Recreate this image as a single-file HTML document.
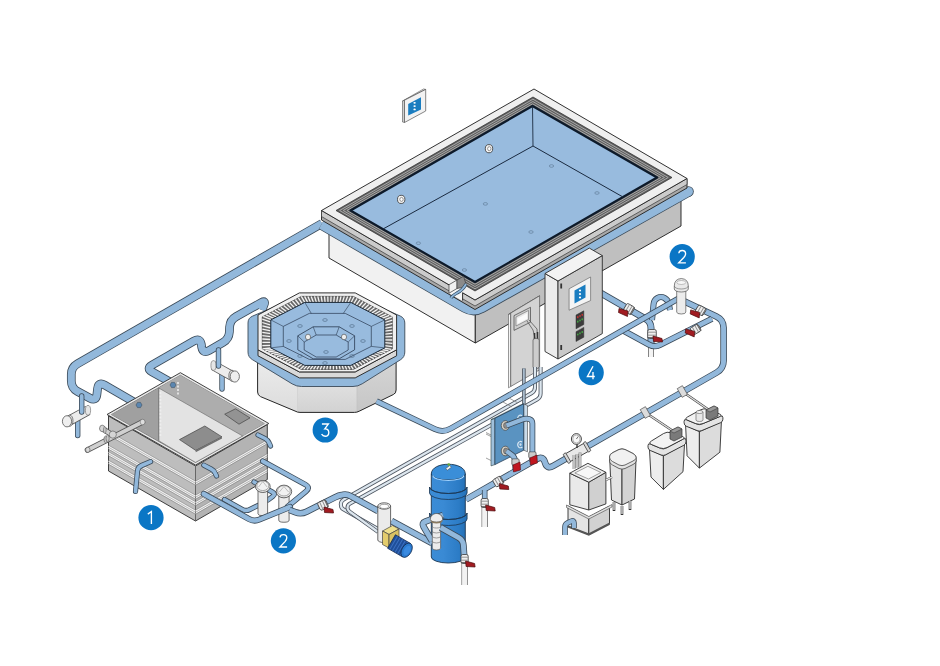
<!DOCTYPE html>
<html><head><meta charset="utf-8"><style>
html,body{margin:0;padding:0;background:#fff;}
svg{display:block;}
</style></head><body>
<svg width="940" height="666" viewBox="0 0 940 666">
<rect width="940" height="666" fill="#fff"/>
<polygon points="402.5,101.0 423.5,89.0 425.7,89.4 404.5,100.2" fill="#e6e6e6" stroke="#555" stroke-width="0.6" stroke-linejoin="round" />
<polygon points="402.5,101.0 404.5,100.2 404.5,122.5 402.5,122.0" fill="#cfcfcf" stroke="#555" stroke-width="0.6" stroke-linejoin="round" />
<polygon points="404.5,100.2 425.7,89.4 425.7,111.0 404.5,122.5" fill="#f2f2f2" stroke="#555" stroke-width="0.7" stroke-linejoin="round" />
<polygon points="408.2,104.0 421.0,97.2 421.0,109.4 408.2,115.4" fill="#1a7dc0" stroke="none" stroke-width="0" stroke-linejoin="round" />
<ellipse cx="414.6" cy="102.8" rx="1.2" ry="0.9" fill="#fff" stroke="none" stroke-width="0"/>
<ellipse cx="414.6" cy="106.1" rx="1.2" ry="0.9" fill="#fff" stroke="none" stroke-width="0"/>
<ellipse cx="414.6" cy="109.39999999999999" rx="1.2" ry="0.9" fill="#fff" stroke="none" stroke-width="0"/>
<path d="M322.0,223.4 L77.4,363.8 Q71.3,367.3 71.3,374.3 L71.3,381.0 Q71.3,388.0 77.4,391.4 L89.9,398.1 Q96.0,401.5 96.9,394.6 L97.6,388.4 Q98.5,381.5 104.6,385.0 L140.0,405.5" fill="none" stroke="#3b4a58" stroke-width="8.7" stroke-linecap="butt" stroke-linejoin="round"/>
<path d="M322.0,223.4 L77.4,363.8 Q71.3,367.3 71.3,374.3 L71.3,381.0 Q71.3,388.0 77.4,391.4 L89.9,398.1 Q96.0,401.5 96.9,394.6 L97.6,388.4 Q98.5,381.5 104.6,385.0 L140.0,405.5" fill="none" stroke="#92b8db" stroke-width="7.1" stroke-linecap="butt" stroke-linejoin="round"/>
<polygon points="329.0,226.0 475.3,310.0 475.3,343.0 329.0,258.0" fill="#f1f1f1" stroke="#262626" stroke-width="0.95" stroke-linejoin="round" />
<polygon points="475.3,310.0 681.0,192.0 681.0,226.0 475.3,343.0" fill="#bfbfbf" stroke="#262626" stroke-width="0.95" stroke-linejoin="round" />
<path d="M321.4,224.5 L464.8,307.5 Q473.5,312.5 482.2,307.6 L688.5,191.5" fill="none" stroke="#3b4a58" stroke-width="10.6" stroke-linecap="butt" stroke-linejoin="round"/>
<circle cx="688.5" cy="191.5" r="5.3" fill="#3b4a58"/>
<path d="M321.4,224.5 L464.8,307.5 Q473.5,312.5 482.2,307.6 L688.5,191.5" fill="none" stroke="#92b8db" stroke-width="9" stroke-linecap="butt" stroke-linejoin="round"/>
<circle cx="688.5" cy="191.5" r="4.5" fill="#92b8db"/>
<polygon points="321.5,210.5 475.0,300.0 687.0,178.5 687.0,188.0 475.0,309.5 321.5,220.0" fill="#a8a8a8" stroke="#262626" stroke-width="0.95" stroke-linejoin="round" />
<polygon points="321.5,210.5 475.0,300.0 687.0,178.5 687.0,184.5 475.0,306.0 321.5,216.5" fill="#cbcbcb" stroke="#333" stroke-width="0.7" stroke-linejoin="round" />
<polygon points="321.5,210.5 534.0,89.0 687.0,178.5 475.0,300.0" fill="#efefef" stroke="#262626" stroke-width="0.95" stroke-linejoin="round" />
<polygon points="336.0,210.5 533.0,97.0 672.0,177.5 475.0,291.0" fill="#5e5e5e" stroke="#2a2a2a" stroke-width="0.7" stroke-linejoin="round" />
<polygon points="339.6,210.5 532.9,99.2 668.2,177.5 475.0,288.8" fill="none" stroke="#a8a8a8" stroke-width="1.0"/>
<polygon points="343.2,210.5 532.8,101.5 664.5,177.5 475.0,286.5" fill="none" stroke="#a8a8a8" stroke-width="1.0"/>
<polygon points="346.9,210.5 532.6,103.8 660.8,177.5 475.0,284.2" fill="none" stroke="#a8a8a8" stroke-width="1.0"/>
<polygon points="350.5,210.5 532.5,106.0 657.0,177.5 475.0,282.0" fill="#98bbde" stroke="#0d1a2a" stroke-width="2.1" stroke-linejoin="round" />
<line x1="532.5" y1="106" x2="533" y2="146" stroke="#1a2a40" stroke-width="0.9"/>
<line x1="533" y1="146" x2="623" y2="197" stroke="#1a2a40" stroke-width="1.0"/>
<line x1="533" y1="146" x2="383" y2="229" stroke="#1a2a40" stroke-width="1.0"/>
<ellipse cx="485.4" cy="203.9" rx="2.2" ry="1.3" fill="none" stroke="#5a7590" stroke-width="0.6"/>
<ellipse cx="531" cy="232" rx="2.2" ry="1.3" fill="none" stroke="#5a7590" stroke-width="0.6"/>
<ellipse cx="597" cy="193" rx="2.2" ry="1.3" fill="none" stroke="#5a7590" stroke-width="0.6"/>
<ellipse cx="551.5" cy="166" rx="2.2" ry="1.3" fill="none" stroke="#5a7590" stroke-width="0.6"/>
<ellipse cx="418.4" cy="243.2" rx="2.2" ry="1.3" fill="none" stroke="#5a7590" stroke-width="0.6"/>
<ellipse cx="464.4" cy="270" rx="2.2" ry="1.3" fill="none" stroke="#5a7590" stroke-width="0.6"/>
<ellipse cx="401.2" cy="199.4" rx="3.7" ry="4.1" fill="#f4f4f4" stroke="#333" stroke-width="0.8"/>
<ellipse cx="401.5" cy="199.4" rx="1.7" ry="2.0" fill="#fff" stroke="#555" stroke-width="0.6"/>
<ellipse cx="489" cy="148.7" rx="3.7" ry="4.1" fill="#f4f4f4" stroke="#333" stroke-width="0.8"/>
<ellipse cx="489.3" cy="148.7" rx="1.7" ry="2.0" fill="#fff" stroke="#555" stroke-width="0.6"/>
<polygon points="449.0,284.7 457.0,280.0 466.0,284.0 462.6,292.6 462.6,301.0 449.0,293.2" fill="#f6f6f6" stroke="none" stroke-width="0" stroke-linejoin="round" />
<polygon points="449.0,284.7 457.0,280.0 457.0,288.5 449.0,293.2" fill="#f1f1f1" stroke="#333" stroke-width="0.7" stroke-linejoin="round" />
<polygon points="457.0,280.0 463.5,276.3 466.0,284.0 462.6,287.5 457.0,288.5" fill="#8a8a8a" stroke="#333" stroke-width="0.6" stroke-linejoin="round" />
<line x1="462.6" y1="292.6" x2="462.6" y2="300.6" stroke="#262626" stroke-width="0.95"/>
<path d="M466,284 Q463,290 457,293 Q452,296 451,298" fill="none" stroke="#2e4a62" stroke-width="3.2"/>
<path d="M466,284 Q463,290 457,293 Q452,296 451,298" fill="none" stroke="#92b8db" stroke-width="1.8"/>
<path d="M77.7,418.0 L77.7,435.5" fill="none" stroke="#3b4a58" stroke-width="5.4" stroke-linecap="round" stroke-linejoin="round"/>
<path d="M77.7,418.0 L77.7,435.5" fill="none" stroke="#92b8db" stroke-width="3.8" stroke-linecap="round" stroke-linejoin="round"/>
<path d="M88,410.3 L69.5,420.5" stroke="#555" stroke-width="10" stroke-linecap="butt"/>
<path d="M88,410.3 L69.5,420.5" stroke="#ececec" stroke-width="8.4" stroke-linecap="butt"/>
<ellipse cx="88" cy="410.3" rx="2.6" ry="4.9" fill="#e6e6e6" stroke="#666" stroke-width="0.6"/>
<ellipse cx="69.8" cy="420.7" rx="3.2" ry="5.6" fill="#dcdcdc" stroke="#555" stroke-width="0.7"/>
<ellipse cx="67" cy="421.3" rx="4.6" ry="5.6" fill="#efefef" stroke="#555" stroke-width="0.8"/>
<path d="M81.7,396.0 L81.7,412.0" fill="none" stroke="#3b4a58" stroke-width="5.4" stroke-linecap="round" stroke-linejoin="round"/>
<path d="M81.7,396.0 L81.7,412.0" fill="none" stroke="#92b8db" stroke-width="3.8" stroke-linecap="round" stroke-linejoin="round"/>
<path d="M172.0,383.0 L152.1,371.9 Q146.0,368.5 152.1,365.0 L193.9,341.0 Q200.0,337.5 201.3,344.4 L201.7,347.1 Q203.0,354.0 209.1,350.5 L222.9,342.5 Q229.0,339.0 229.4,332.0 L229.6,327.0 Q230.0,320.0 236.1,316.6 L261.3,302.6 Q266.0,300.0 264.0,305.0 L262.0,310.0" fill="none" stroke="#3b4a58" stroke-width="8.7" stroke-linecap="butt" stroke-linejoin="round"/>
<path d="M172.0,383.0 L152.1,371.9 Q146.0,368.5 152.1,365.0 L193.9,341.0 Q200.0,337.5 201.3,344.4 L201.7,347.1 Q203.0,354.0 209.1,350.5 L222.9,342.5 Q229.0,339.0 229.4,332.0 L229.6,327.0 Q230.0,320.0 236.1,316.6 L261.3,302.6 Q266.0,300.0 264.0,305.0 L262.0,310.0" fill="none" stroke="#92b8db" stroke-width="7.1" stroke-linecap="butt" stroke-linejoin="round"/>
<path d="M222.0,373.0 L222.0,389.0" fill="none" stroke="#3b4a58" stroke-width="5.4" stroke-linecap="round" stroke-linejoin="round"/>
<path d="M222.0,373.0 L222.0,389.0" fill="none" stroke="#92b8db" stroke-width="3.8" stroke-linecap="round" stroke-linejoin="round"/>
<path d="M213.5,365.5 L232,375.8" stroke="#555" stroke-width="10" stroke-linecap="butt"/>
<path d="M213.5,365.5 L232,375.8" stroke="#ececec" stroke-width="8.4" stroke-linecap="butt"/>
<ellipse cx="213.5" cy="365.5" rx="2.6" ry="4.9" fill="#e6e6e6" stroke="#666" stroke-width="0.6"/>
<ellipse cx="232" cy="375.8" rx="3.2" ry="5.6" fill="#dcdcdc" stroke="#555" stroke-width="0.7"/>
<ellipse cx="234.8" cy="376.5" rx="4.6" ry="5.6" fill="#efefef" stroke="#555" stroke-width="0.8"/>
<path d="M218.5,350.0 L218.5,366.0" fill="none" stroke="#3b4a58" stroke-width="5.4" stroke-linecap="round" stroke-linejoin="round"/>
<path d="M218.5,350.0 L218.5,366.0" fill="none" stroke="#92b8db" stroke-width="3.8" stroke-linecap="round" stroke-linejoin="round"/>
<defs><linearGradient id="htl" x1="0" y1="0" x2="0" y2="1"><stop offset="0" stop-color="#eeeeee"/><stop offset="1" stop-color="#dcdcdc"/></linearGradient><linearGradient id="htf" x1="0" y1="0" x2="0" y2="1"><stop offset="0" stop-color="#e6e6e6"/><stop offset="1" stop-color="#d2d2d2"/></linearGradient><linearGradient id="htr" x1="0" y1="0" x2="0" y2="1"><stop offset="0" stop-color="#d8d8d8"/><stop offset="1" stop-color="#c6c6c6"/></linearGradient></defs>
<polygon points="257.6,350.0 297.5,372.0 297.5,412.4 257.6,395.0" fill="url(#htl)" stroke="none" stroke-width="0" stroke-linejoin="round" />
<polygon points="297.5,372.0 356.9,372.0 356.9,412.4 297.5,412.4" fill="url(#htf)" stroke="none" stroke-width="0" stroke-linejoin="round" />
<polygon points="356.9,372.0 396.1,350.0 396.1,393.2 356.9,412.4" fill="url(#htr)" stroke="none" stroke-width="0" stroke-linejoin="round" />
<path d="M257.6,350 L257.6,392 Q257.6,395 260.5,396.6 L295,411 Q297.5,412.4 300,412.4 L354.4,412.4 Q356.9,412.4 359.2,411.2 L393.4,394.5 Q396.1,393.2 396.1,390 L396.1,350" fill="none" stroke="#262626" stroke-width="1"/>
<line x1="297.5" y1="380" x2="297.5" y2="411" stroke="#c8c8c8" stroke-width="0.6"/>
<line x1="356.9" y1="380" x2="356.9" y2="411" stroke="#bdbdbd" stroke-width="0.6"/>
<path d="M300.0,296.0 L349.0,296.0 Q354.0,296.0 358.6,298.0 L400.2,316.0 Q404.8,318.0 404.8,323.0 L404.8,352.0 Q404.8,357.0 400.6,359.7 L362.2,383.8 Q358.0,386.5 353.0,386.5 L301.5,386.5 Q296.5,386.5 292.2,383.9 L252.3,359.6 Q248.0,357.0 248.0,352.0 L248.0,323.0 Q248.0,318.0 252.6,316.1 L295.4,297.9 Q300.0,296.0 305.0,296.0 L354.0,296.0 Z" fill="#92b8db" stroke="#3b4a58" stroke-width="0.9" stroke-linejoin="round"/>
<polygon points="258.0,349.8 299.4,371.9 355.2,371.9 396.6,349.8 396.6,355.8 355.2,377.9 299.4,377.9 258.0,355.8" fill="#d9d9d9" stroke="#262626" stroke-width="0.95" stroke-linejoin="round" />
<polygon points="299.4,292.9 355.2,292.9 396.6,315.0 396.6,349.8 355.2,371.9 299.4,371.9 258.0,349.8 258.0,315.0" fill="#f0f0f0" stroke="#262626" stroke-width="0.95" stroke-linejoin="round" />
<polygon points="301.3,296.4 353.3,296.4 392.3,316.9 392.3,348.9 353.3,369.4 301.3,369.4 262.3,348.9 262.3,316.9" fill="#6a6a6a" stroke="#333" stroke-width="0.7" stroke-linejoin="round" />
<path d="M301.3,296.4L304.8,302.4 M304.6,296.4L307.7,302.4 M307.9,296.4L310.6,302.4 M311.2,296.4L313.5,302.4 M314.5,296.4L316.4,302.4 M317.8,296.4L319.3,302.4 M321.2,296.4L322.2,302.4 M324.5,296.4L325.1,302.4 M327.8,296.4L328.0,302.4 M331.1,296.4L330.8,302.4 M334.4,296.4L333.7,302.4 M337.7,296.4L336.6,302.4 M341.0,296.4L339.5,302.4 M344.3,296.4L342.4,302.4 M347.6,296.4L345.3,302.4 M350.9,296.4L348.2,302.4 M354.1,296.8L351.1,302.5 M357.1,298.4L353.6,303.9 M360.0,299.9L356.2,305.2 M362.9,301.5L358.8,306.5 M365.9,303.0L361.4,307.8 M368.8,304.5L363.9,309.2 M371.7,306.1L366.5,310.5 M374.7,307.6L369.1,311.8 M377.6,309.2L371.7,313.1 M380.5,310.7L374.2,314.5 M383.4,312.2L376.8,315.8 M386.4,313.8L379.4,317.1 M389.3,315.3L381.9,318.4 M392.2,316.9L384.5,319.8 M392.3,320.1L384.8,322.5 M392.3,323.4L384.8,325.4 M392.3,326.8L384.8,328.3 M392.3,330.1L384.8,331.2 M392.3,333.4L384.8,334.1 M392.3,336.7L384.8,336.9 M392.3,340.0L384.8,339.8 M392.3,343.3L384.8,342.7 M392.3,346.6L384.8,345.6 M391.4,349.4L384.2,348.2 M388.5,350.9L381.7,349.5 M385.5,352.5L379.1,350.8 M382.6,354.0L376.5,352.2 M379.7,355.5L374.0,353.5 M376.7,357.1L371.4,354.8 M373.8,358.6L368.8,356.1 M370.9,360.2L366.2,357.5 M367.9,361.7L363.7,358.8 M365.0,363.2L361.1,360.1 M362.1,364.8L358.5,361.4 M359.2,366.3L355.9,362.8 M356.2,367.9L353.4,364.1 M353.3,369.4L350.8,365.4 M350.0,369.4L347.9,365.4 M346.7,369.4L345.0,365.4 M343.4,369.4L342.1,365.4 M340.1,369.4L339.2,365.4 M336.8,369.4L336.3,365.4 M333.4,369.4L333.4,365.4 M330.1,369.4L330.5,365.4 M326.8,369.4L327.6,365.4 M323.5,369.4L324.8,365.4 M320.2,369.4L321.9,365.4 M316.9,369.4L319.0,365.4 M313.6,369.4L316.1,365.4 M310.3,369.4L313.2,365.4 M307.0,369.4L310.3,365.4 M303.7,369.4L307.4,365.4 M300.5,369.0L304.5,365.3 M297.5,367.4L302.0,363.9 M294.6,365.9L299.4,362.6 M291.7,364.3L296.8,361.3 M288.7,362.8L294.2,360.0 M285.8,361.3L291.7,358.6 M282.9,359.7L289.1,357.3 M279.9,358.2L286.5,356.0 M277.0,356.6L283.9,354.7 M274.1,355.1L281.4,353.3 M271.2,353.6L278.8,352.0 M268.2,352.0L276.2,350.7 M265.3,350.5L273.7,349.4 M262.4,348.9L271.1,348.0 M262.3,345.7L270.8,345.3 M262.3,342.4L270.8,342.4 M262.3,339.0L270.8,339.5 M262.3,335.7L270.8,336.6 M262.3,332.4L270.8,333.7 M262.3,329.1L270.8,330.9 M262.3,325.8L270.8,328.0 M262.3,322.5L270.8,325.1 M262.3,319.2L270.8,322.2 M263.2,316.4L271.4,319.6 M266.1,314.9L273.9,318.3 M269.1,313.3L276.5,317.0 M272.0,311.8L279.1,315.6 M274.9,310.3L281.6,314.3 M277.9,308.7L284.2,313.0 M280.8,307.2L286.8,311.7 M283.7,305.6L289.4,310.3 M286.7,304.1L291.9,309.0 M289.6,302.6L294.5,307.7 M292.5,301.0L297.1,306.4 M295.4,299.5L299.7,305.0 M298.4,297.9L302.2,303.7" stroke="#f2f2f2" stroke-width="1.3" fill="none"/>
<polygon points="304.8,302.4 350.8,302.4 384.8,319.9 384.8,347.9 350.8,365.4 304.8,365.4 270.8,347.9 270.8,319.9" fill="#98bbde" stroke="#1d2b3a" stroke-width="1.0" stroke-linejoin="round" />
<polygon points="309.3,313.4 345.3,313.4 371.3,326.4 371.3,346.4 345.3,359.4 309.3,359.4 283.3,346.4 283.3,326.4" fill="#98bbde" stroke="#2a3a50" stroke-width="0.7" stroke-linejoin="round" />
<line x1="304.8" y1="302.4" x2="311.3" y2="313.4" stroke="#2a3a50" stroke-width="0.6"/>
<line x1="350.8" y1="302.4" x2="343.3" y2="313.4" stroke="#2a3a50" stroke-width="0.6"/>
<line x1="384.8" y1="319.9" x2="371.3" y2="326.4" stroke="#2a3a50" stroke-width="0.6"/>
<line x1="270.8" y1="319.9" x2="283.3" y2="326.4" stroke="#2a3a50" stroke-width="0.6"/>
<line x1="384.8" y1="347.9" x2="371.3" y2="346.4" stroke="#2a3a50" stroke-width="0.6"/>
<line x1="270.8" y1="347.9" x2="283.3" y2="346.4" stroke="#2a3a50" stroke-width="0.6"/>
<polygon points="313.2,326.8 339.2,326.8 354.6,335.8 354.6,349.8 339.2,358.8 313.2,358.8 297.8,349.8 297.8,335.8" fill="#98bbde" stroke="#2a3a50" stroke-width="0.8" stroke-linejoin="round" />
<polygon points="316.2,335.0 336.2,335.0 348.2,342.0 348.2,350.0 336.2,357.0 316.2,357.0 304.2,350.0 304.2,342.0" fill="#98bbde" stroke="#2a3a50" stroke-width="0.7" stroke-linejoin="round" />
<line x1="313.2" y1="326.8" x2="316.2" y2="335" stroke="#2a3a50" stroke-width="0.6"/>
<line x1="339.2" y1="326.8" x2="336.2" y2="335" stroke="#2a3a50" stroke-width="0.6"/>
<line x1="354.59999999999997" y1="335.8" x2="348.2" y2="342" stroke="#2a3a50" stroke-width="0.6"/>
<line x1="297.8" y1="335.8" x2="304.2" y2="342" stroke="#2a3a50" stroke-width="0.6"/>
<ellipse cx="325" cy="320" rx="2.3" ry="1.4" fill="none" stroke="#4a6580" stroke-width="0.6"/>
<ellipse cx="300" cy="326" rx="2.3" ry="1.4" fill="none" stroke="#4a6580" stroke-width="0.6"/>
<ellipse cx="352" cy="326" rx="2.3" ry="1.4" fill="none" stroke="#4a6580" stroke-width="0.6"/>
<ellipse cx="289" cy="341" rx="2.3" ry="1.4" fill="none" stroke="#4a6580" stroke-width="0.6"/>
<ellipse cx="363" cy="341" rx="2.3" ry="1.4" fill="none" stroke="#4a6580" stroke-width="0.6"/>
<ellipse cx="300" cy="356" rx="2.3" ry="1.4" fill="none" stroke="#4a6580" stroke-width="0.6"/>
<ellipse cx="352" cy="356" rx="2.3" ry="1.4" fill="none" stroke="#4a6580" stroke-width="0.6"/>
<ellipse cx="325" cy="363" rx="2.3" ry="1.4" fill="none" stroke="#4a6580" stroke-width="0.6"/>
<ellipse cx="326" cy="352" rx="2.3" ry="1.4" fill="none" stroke="#4a6580" stroke-width="0.6"/>
<ellipse cx="308" cy="337" rx="2.6" ry="2.8" fill="#eee" stroke="#444" stroke-width="0.6"/>
<ellipse cx="344" cy="337" rx="2.6" ry="2.8" fill="#eee" stroke="#444" stroke-width="0.6"/>
<polygon points="108.5,416.0 195.5,466.0 195.5,521.0 108.5,471.0" fill="#bdbdbd" stroke="#2c2c2c" stroke-width="0.9" stroke-linejoin="round" />
<polygon points="195.5,466.0 267.3,424.5 267.3,479.5 195.5,521.0" fill="#b3b3b3" stroke="#2c2c2c" stroke-width="0.9" stroke-linejoin="round" />
<polyline points="108.5,432.0 195.5,482.0 267.3,440.5" fill="none" stroke="#f4f4f4" stroke-width="1.3"/>
<polyline points="108.5,434.3 195.5,484.3 267.3,442.8" fill="none" stroke="#f4f4f4" stroke-width="1.0"/>
<polyline points="108.5,431.2 195.5,481.2 267.3,439.7" fill="none" stroke="#7a7a7a" stroke-width="0.5"/>
<polyline points="108.5,435.3 195.5,485.3 267.3,443.8" fill="none" stroke="#7a7a7a" stroke-width="0.5"/>
<polyline points="108.5,446.0 195.5,496.0 267.3,454.5" fill="none" stroke="#f4f4f4" stroke-width="1.3"/>
<polyline points="108.5,448.3 195.5,498.3 267.3,456.8" fill="none" stroke="#f4f4f4" stroke-width="1.0"/>
<polyline points="108.5,445.2 195.5,495.2 267.3,453.7" fill="none" stroke="#7a7a7a" stroke-width="0.5"/>
<polyline points="108.5,449.3 195.5,499.3 267.3,457.8" fill="none" stroke="#7a7a7a" stroke-width="0.5"/>
<polyline points="108.5,452.5 195.5,502.5 267.3,461.0" fill="none" stroke="#f4f4f4" stroke-width="1.3"/>
<polyline points="108.5,454.8 195.5,504.8 267.3,463.3" fill="none" stroke="#f4f4f4" stroke-width="1.0"/>
<polyline points="108.5,451.7 195.5,501.7 267.3,460.2" fill="none" stroke="#7a7a7a" stroke-width="0.5"/>
<polyline points="108.5,455.8 195.5,505.8 267.3,464.3" fill="none" stroke="#7a7a7a" stroke-width="0.5"/>
<polyline points="108.5,461.0 195.5,511.0 267.3,469.5" fill="none" stroke="#f4f4f4" stroke-width="1.3"/>
<polyline points="108.5,463.3 195.5,513.3 267.3,471.8" fill="none" stroke="#f4f4f4" stroke-width="1.0"/>
<polyline points="108.5,460.2 195.5,510.2 267.3,468.7" fill="none" stroke="#7a7a7a" stroke-width="0.5"/>
<polyline points="108.5,464.3 195.5,514.3 267.3,472.8" fill="none" stroke="#7a7a7a" stroke-width="0.5"/>
<line x1="195.5" y1="466" x2="195.5" y2="521" stroke="#888" stroke-width="0.6"/>
<polygon points="107.0,414.5 180.4,372.7 268.8,423.5 195.5,465.0" fill="#e8e8e8" stroke="#2c2c2c" stroke-width="0.9" stroke-linejoin="round" />
<polygon points="111.5,414.6 180.4,375.3 264.3,423.6 195.5,462.4" fill="#a3a3a3" stroke="#555" stroke-width="0.6" stroke-linejoin="round" />
<polygon points="180.4,375.3 264.3,423.6 242.7,436.0 158.7,388.0 170.0,381.0" fill="#adadad" stroke="none" stroke-width="0" stroke-linejoin="round" />
<polygon points="158.7,388.0 242.7,436.0 195.5,462.4 158.7,440.7" fill="#e3e3e3" stroke="#666" stroke-width="0.6" stroke-linejoin="round" />
<polygon points="111.5,414.6 158.7,388.0 158.7,440.7" fill="#a0a0a0" stroke="none" stroke-width="0" stroke-linejoin="round" />
<line x1="158.7" y1="388" x2="158.7" y2="440.7" stroke="#666" stroke-width="0.6"/>
<line x1="160.5" y1="392" x2="160.5" y2="436" stroke="#eee" stroke-width="1.6" stroke-dasharray="2,1.5"/>
<line x1="178" y1="382" x2="178" y2="396" stroke="#eee" stroke-width="1.6" stroke-dasharray="2,1.5"/>
<polygon points="179.5,439.6 204.8,426.0 222.0,436.9 195.7,450.4" fill="#8d8d8d" stroke="#444" stroke-width="0.7" stroke-linejoin="round" />
<polygon points="195.7,450.4 222.0,436.9 222.0,438.6 195.7,452.2" fill="#6f6f6f" stroke="none" stroke-width="0" stroke-linejoin="round" />
<polygon points="224.7,414.2 235.5,408.8 250.0,417.9 239.0,424.2" fill="#939393" stroke="#444" stroke-width="0.7" stroke-linejoin="round" />
<polygon points="142.0,405.0 140.5,407.6 137.5,407.6 136.0,405.0 137.5,402.4 140.5,402.4" fill="#5b86b0" stroke="#345" stroke-width="0.5"/>
<polygon points="176.0,385.0 174.5,387.6 171.5,387.6 170.0,385.0 171.5,382.4 174.5,382.4" fill="#5b86b0" stroke="#345" stroke-width="0.5"/>
<path d="M142.4,422 L87.5,450" stroke="#555" stroke-width="5.6" stroke-linecap="round"/>
<path d="M142.4,422 L87.5,450" stroke="#d0d0d0" stroke-width="4" stroke-linecap="round"/>
<ellipse cx="142.6" cy="422" rx="2.4" ry="2.8" fill="#dedede" stroke="#666" stroke-width="0.5"/>
<path d="M111.5,434.5 L102.5,428.6" stroke="#555" stroke-width="5.6" stroke-linecap="round"/>
<path d="M111.5,434.5 L102.5,428.6" stroke="#cfcfcf" stroke-width="4" stroke-linecap="round"/>
<ellipse cx="102.2" cy="428.4" rx="2.6" ry="3.3" fill="#d6d6d6" stroke="#555" stroke-width="0.6"/>
<ellipse cx="104.8" cy="430" rx="1.4" ry="3.3" fill="#c4c4c4" stroke="#555" stroke-width="0.5"/>
<circle cx="112.8" cy="434.6" r="3.6" fill="#d5d5d5" stroke="#555" stroke-width="0.6"/>
<ellipse cx="105.6" cy="439.4" rx="1.6" ry="3.4" fill="#c8c8c8" stroke="#555" stroke-width="0.6"/>
<ellipse cx="107.6" cy="438.4" rx="1.6" ry="3.4" fill="#c8c8c8" stroke="#555" stroke-width="0.6"/>
<ellipse cx="87.8" cy="449.8" rx="2.2" ry="2.6" fill="#d9d9d9" stroke="#555" stroke-width="0.6"/>
<path d="M150.6,461.7 L141.6,465.5 Q137.9,467.0 137.5,471.0 L135.5,491.5" fill="none" stroke="#3b4a58" stroke-width="5.2" stroke-linecap="round" stroke-linejoin="round"/>
<path d="M150.6,461.7 L141.6,465.5 Q137.9,467.0 137.5,471.0 L135.5,491.5" fill="none" stroke="#92b8db" stroke-width="3.6" stroke-linecap="round" stroke-linejoin="round"/>
<path d="M203.8,465.2 L211.3,469.1 Q214.0,470.5 215.2,473.2 L216.5,476.0" fill="none" stroke="#3b4a58" stroke-width="5.2" stroke-linecap="round" stroke-linejoin="round"/>
<path d="M203.8,465.2 L211.3,469.1 Q214.0,470.5 215.2,473.2 L216.5,476.0" fill="none" stroke="#92b8db" stroke-width="3.6" stroke-linecap="round" stroke-linejoin="round"/>
<path d="M258.0,435.0 L265.1,438.5 Q268.0,440.0 269.2,443.0 L270.5,446.0" fill="none" stroke="#3b4a58" stroke-width="5.2" stroke-linecap="round" stroke-linejoin="round"/>
<path d="M258.0,435.0 L265.1,438.5 Q268.0,440.0 269.2,443.0 L270.5,446.0" fill="none" stroke="#92b8db" stroke-width="3.6" stroke-linecap="round" stroke-linejoin="round"/>
<path d="M254.0,482.0 L272.5,492.1 Q276.0,494.0 272.8,496.4 L268.0,500.0" fill="none" stroke="#3b4a58" stroke-width="5.2" stroke-linecap="round" stroke-linejoin="round"/>
<path d="M254.0,482.0 L272.5,492.1 Q276.0,494.0 272.8,496.4 L268.0,500.0" fill="none" stroke="#92b8db" stroke-width="3.6" stroke-linecap="round" stroke-linejoin="round"/>
<path d="M224.5,499.5 L242.5,509.5 Q246.0,511.4 249.6,509.6 L262.0,503.5" fill="none" stroke="#3b4a58" stroke-width="5.2" stroke-linecap="round" stroke-linejoin="round"/>
<path d="M224.5,499.5 L242.5,509.5 Q246.0,511.4 249.6,509.6 L262.0,503.5" fill="none" stroke="#92b8db" stroke-width="3.6" stroke-linecap="round" stroke-linejoin="round"/>
<path d="M258,488 L258,513.8 A4.800000000000011,1.9200000000000046 0 0 0 267.6,513.8 L267.6,488 Z" fill="#ececec" stroke="#444" stroke-width="0.75"/>
<ellipse cx="262.8" cy="486.5" rx="7.400000000000011" ry="6.0000000000000115" fill="#e6e6e6" stroke="#444" stroke-width="0.8"/>
<ellipse cx="262.8" cy="485.8" rx="6.0000000000000115" ry="4.800000000000011" fill="#f2f2f2" stroke="#777" stroke-width="0.6"/>
<path d="M258.5,487 L262.8,481.5 L267.1,487" fill="none" stroke="#999" stroke-width="0.6"/>
<path d="M278.8,493 L278.8,520.2 A5.150000000000006,2.0600000000000023 0 0 0 289.1,520.2 L289.1,493 Z" fill="#ececec" stroke="#444" stroke-width="0.75"/>
<ellipse cx="283.95000000000005" cy="491.5" rx="7.750000000000005" ry="6.350000000000006" fill="#e6e6e6" stroke="#444" stroke-width="0.8"/>
<ellipse cx="283.95000000000005" cy="490.8" rx="6.350000000000006" ry="5.150000000000006" fill="#f2f2f2" stroke="#777" stroke-width="0.6"/>
<path d="M279.30000000000007,492 L283.95000000000005,486.5 L288.6,492" fill="none" stroke="#999" stroke-width="0.6"/>
<path d="M262.8,461.2 L305.4,484.6 Q310.7,487.5 306.1,491.3 L287.5,506.6" fill="none" stroke="#3b4a58" stroke-width="5.6" stroke-linecap="round" stroke-linejoin="round"/>
<path d="M262.8,461.2 L305.4,484.6 Q310.7,487.5 306.1,491.3 L287.5,506.6" fill="none" stroke="#92b8db" stroke-width="4" stroke-linecap="round" stroke-linejoin="round"/>
<path d="M203.8,493.9 L248.8,518.9 Q254.0,521.8 259.5,519.5 L290.0,507.0" fill="none" stroke="#3b4a58" stroke-width="6.199999999999999" stroke-linecap="round" stroke-linejoin="round"/>
<path d="M203.8,493.9 L248.8,518.9 Q254.0,521.8 259.5,519.5 L290.0,507.0" fill="none" stroke="#92b8db" stroke-width="4.6" stroke-linecap="round" stroke-linejoin="round"/>
<path d="M585.0,284.0 L645.8,319.0 Q651.0,322.0 651.0,328.0 L651.0,345.0" fill="none" stroke="#3b4a58" stroke-width="7.0" stroke-linecap="butt" stroke-linejoin="round"/>
<path d="M585.0,284.0 L645.8,319.0 Q651.0,322.0 651.0,328.0 L651.0,345.0" fill="none" stroke="#92b8db" stroke-width="5.4" stroke-linecap="butt" stroke-linejoin="round"/>
<path d="M648.5,345 L648.5,357 M653.5,345 L653.5,357" stroke="#555" stroke-width="0.8"/>
<rect x="648.9" y="345" width="4.2" height="12" fill="#f4f4f4"/>
<path d="M652.0,320.0 L653.6,304.0 Q654.0,300.0 657.5,298.0 L657.5,298.0 Q661.0,296.0 664.5,298.0 L664.5,298.0 Q668.0,300.0 668.8,303.9 L670.0,310.0" fill="none" stroke="#3b4a58" stroke-width="6.1" stroke-linecap="butt" stroke-linejoin="round"/>
<path d="M652.0,320.0 L653.6,304.0 Q654.0,300.0 657.5,298.0 L657.5,298.0 Q661.0,296.0 664.5,298.0 L664.5,298.0 Q668.0,300.0 668.8,303.9 L670.0,310.0" fill="none" stroke="#92b8db" stroke-width="4.5" stroke-linecap="butt" stroke-linejoin="round"/>
<path d="M682.5,300.5 L716.4,316.6 Q723.6,320.0 723.6,328.0 L723.6,360.5 Q723.6,368.5 716.7,372.5 L553.3,465.9 Q547.0,469.5 545.0,462.5 L545.0,462.5 Q543.0,455.5 536.7,459.1 L466.0,499.5" fill="none" stroke="#3b4a58" stroke-width="6.6" stroke-linecap="butt" stroke-linejoin="round"/>
<path d="M682.5,300.5 L716.4,316.6 Q723.6,320.0 723.6,328.0 L723.6,360.5 Q723.6,368.5 716.7,372.5 L553.3,465.9 Q547.0,469.5 545.0,462.5 L545.0,462.5 Q543.0,455.5 536.7,459.1 L466.0,499.5" fill="none" stroke="#92b8db" stroke-width="5" stroke-linecap="butt" stroke-linejoin="round"/>
<path d="M624.0,331.0 L649.2,344.7 Q654.5,347.6 659.9,344.9 L712.0,318.7" fill="none" stroke="#3b4a58" stroke-width="6.199999999999999" stroke-linecap="butt" stroke-linejoin="round"/>
<path d="M624.0,331.0 L649.2,344.7 Q654.5,347.6 659.9,344.9 L712.0,318.7" fill="none" stroke="#92b8db" stroke-width="4.6" stroke-linecap="butt" stroke-linejoin="round"/>
<polygon points="545.0,273.5 558.0,281.0 558.0,359.0 545.0,351.5" fill="#ececec" stroke="#2c2c2c" stroke-width="0.9" stroke-linejoin="round" />
<polygon points="558.0,281.0 602.3,255.6 602.3,333.6 558.0,359.0" fill="#c9c9c9" stroke="#2c2c2c" stroke-width="0.9" stroke-linejoin="round" />
<polygon points="545.0,273.5 589.3,248.1 602.3,255.6 558.0,281.0" fill="#f3f3f3" stroke="#2c2c2c" stroke-width="0.9" stroke-linejoin="round" />
<polygon points="569.1,288.8 590.6,277.0 590.6,300.5 569.1,310.2" fill="#f4f4f4" stroke="#555" stroke-width="0.6" stroke-linejoin="round" />
<polygon points="574.5,290.5 585.5,284.5 585.5,297.5 574.5,303.5" fill="#1a7dc0" stroke="none" stroke-width="0" stroke-linejoin="round" />
<ellipse cx="580" cy="290.5" rx="1.1" ry="0.9" fill="#fff" stroke="none" stroke-width="0"/>
<ellipse cx="580" cy="294.0" rx="1.1" ry="0.9" fill="#fff" stroke="none" stroke-width="0"/>
<ellipse cx="580" cy="297.5" rx="1.1" ry="0.9" fill="#fff" stroke="none" stroke-width="0"/>
<polygon points="576.0,315.1 583.8,310.8 583.8,324.5 576.0,328.8" fill="#3c3c3c" stroke="#333" stroke-width="0.5" stroke-linejoin="round" />
<polygon points="576.0,331.7 583.8,327.4 583.8,337.2 576.0,341.5" fill="#3c3c3c" stroke="#333" stroke-width="0.5" stroke-linejoin="round" />
<ellipse cx="577.8" cy="317.2" rx="0.8" ry="1.1" fill="#c33" stroke="none" stroke-width="0"/>
<ellipse cx="580" cy="316" rx="0.8" ry="1.1" fill="#c33" stroke="none" stroke-width="0"/>
<ellipse cx="582.2" cy="314.8" rx="0.8" ry="1.1" fill="#c33" stroke="none" stroke-width="0"/>
<ellipse cx="577.8" cy="321.7" rx="0.8" ry="1.1" fill="#4a4" stroke="none" stroke-width="0"/>
<ellipse cx="580" cy="320.5" rx="0.8" ry="1.1" fill="#4a4" stroke="none" stroke-width="0"/>
<ellipse cx="582.2" cy="319.3" rx="0.8" ry="1.1" fill="#4a4" stroke="none" stroke-width="0"/>
<ellipse cx="577.8" cy="334.5" rx="0.8" ry="1.1" fill="#4a4" stroke="none" stroke-width="0"/>
<ellipse cx="580" cy="333.3" rx="0.8" ry="1.1" fill="#4a4" stroke="none" stroke-width="0"/>
<ellipse cx="582.2" cy="332.1" rx="0.8" ry="1.1" fill="#4a4" stroke="none" stroke-width="0"/>
<rect x="560.3" y="283.5" width="1.8" height="5" fill="#333"/>
<rect x="560.3" y="345" width="1.8" height="5" fill="#333"/>
<polygon points="508.5,314.4 510.7,313.1 510.7,386.5 508.5,387.8" fill="#f4f4f4" stroke="#555" stroke-width="0.6" stroke-linejoin="round" />
<polygon points="508.5,314.4 537.4,297.1 539.6,295.8 510.7,313.1" fill="#f4f4f4" stroke="#555" stroke-width="0.6" stroke-linejoin="round" />
<polygon points="510.7,313.1 539.6,295.8 539.6,369.8 510.7,386.5" fill="#d3d3d3" stroke="#555" stroke-width="0.7" stroke-linejoin="round" />
<polygon points="514.0,315.6 530.5,307.3 530.5,322.2 514.0,330.4" fill="#cdcdcd" stroke="#444" stroke-width="0.7" stroke-linejoin="round" />
<polygon points="516.0,317.0 528.5,310.5 528.5,319.5 516.0,326.0" fill="#e9e9e9" stroke="#555" stroke-width="0.5" stroke-linejoin="round" />
<polygon points="517.5,318.5 527.0,313.5 527.0,318.8 517.5,323.8" fill="#fbfbfb" stroke="none" stroke-width="0" stroke-linejoin="round" />
<path d="M527,321 L533,330 L535,338 M529,320 L537,329 L537.5,338" stroke="#555" stroke-width="0.8" fill="none"/>
<path d="M534.5,333 L534.5,340 M537.5,332 L537.5,340" stroke="#333" stroke-width="1.6"/>
<path d="M533,340 L533,367 A3.1,1.6 0 0 0 539.2,367 L539.2,340 A3.1,1.6 0 0 0 533,340 Z" fill="#cdcdcd" stroke="#555" stroke-width="0.7"/>
<path d="M535.0,367.0 L535.0,387.2 Q535.0,391.2 531.5,393.2 L343.7,499.6 Q340.8,501.3 340.8,504.6 L340.8,504.6 Q340.8,508.0 343.7,509.6 L378.0,529.0" fill="none" stroke="#4d5560" stroke-width="4.0" stroke-linejoin="round"/>
<path d="M535.0,367.0 L535.0,387.2 Q535.0,391.2 531.5,393.2 L343.7,499.6 Q340.8,501.3 340.8,504.6 L340.8,504.6 Q340.8,508.0 343.7,509.6 L378.0,529.0" fill="none" stroke="#dce6ee" stroke-width="2.3" stroke-linejoin="round"/>
<path d="M540.6,367.0 L540.6,393.6 Q540.6,397.6 537.1,399.5 L349.7,503.8 Q347.5,505.0 347.5,507.5 L347.5,507.5 Q347.5,510.0 349.5,511.5 L378.0,532.0" fill="none" stroke="#4d5560" stroke-width="4.0" stroke-linejoin="round"/>
<path d="M540.6,367.0 L540.6,393.6 Q540.6,397.6 537.1,399.5 L349.7,503.8 Q347.5,505.0 347.5,507.5 L347.5,507.5 Q347.5,510.0 349.5,511.5 L378.0,532.0" fill="none" stroke="#dce6ee" stroke-width="2.3" stroke-linejoin="round"/>
<path d="M289.5,510.0 L295.2,512.2 Q301.0,514.5 306.5,511.7 L334.8,497.4 Q338.6,495.5 342.8,494.8 L342.8,494.8 Q347.0,494.0 350.7,496.1 L378.0,511.0" fill="none" stroke="#3b4a58" stroke-width="6.6" stroke-linecap="butt" stroke-linejoin="round"/>
<path d="M289.5,510.0 L295.2,512.2 Q301.0,514.5 306.5,511.7 L334.8,497.4 Q338.6,495.5 342.8,494.8 L342.8,494.8 Q347.0,494.0 350.7,496.1 L378.0,511.0" fill="none" stroke="#92b8db" stroke-width="5.0" stroke-linecap="butt" stroke-linejoin="round"/>
<g transform="translate(323,505) rotate(-25)"><rect x="-4.5" y="-4.2" width="9" height="8.4" rx="1.8" fill="#efefef" stroke="#3a3a3a" stroke-width="0.8"/><line x1="-1.8" y1="-4.2" x2="-1.8" y2="4.2" stroke="#8a8a8a" stroke-width="0.9"/><line x1="1.2" y1="-4.2" x2="1.2" y2="4.2" stroke="#8a8a8a" stroke-width="0.9"/><line x1="3.6" y1="-4.2" x2="3.6" y2="4.2" stroke="#555" stroke-width="0.9"/></g>
<path d="M324,507 L333,509.5 L333.5,513 L324.5,512.5 Z" fill="#a11b21" stroke="#4a0a0c" stroke-width="0.7"/>
<path d="M523.9,368.4 L523.9,445.0" fill="none" stroke="#4d5560" stroke-width="3.5" stroke-linejoin="round"/>
<path d="M523.9,368.4 L523.9,445.0" fill="none" stroke="#a9bccd" stroke-width="1.8" stroke-linejoin="round"/>
<path d="M376.5,401.2 L434.9,429.1 Q443.0,433.0 450.8,428.5 L679.2,298.2" fill="none" stroke="#3b4a58" stroke-width="6.0" stroke-linecap="butt" stroke-linejoin="round"/>
<path d="M376.5,401.2 L434.9,429.1 Q443.0,433.0 450.8,428.5 L679.2,298.2" fill="none" stroke="#92b8db" stroke-width="4.4" stroke-linecap="butt" stroke-linejoin="round"/>
<path d="M676.7,288 L676.7,312 A4.55,2 0 0 0 685.8,312 L685.8,288 Z" fill="#ececec" stroke="#555" stroke-width="0.7"/>
<path d="M674.3,289 L674.3,286 Q674.3,279 681.3,278.5 Q688.3,279 688.3,286 L688.3,289 A7,3 0 0 1 674.3,289 Z" fill="#e9e9e9" stroke="#555" stroke-width="0.7"/>
<path d="M674.3,286 A7,3 0 0 0 688.3,286" fill="none" stroke="#666" stroke-width="0.6"/>
<ellipse cx="681.3" cy="282.5" rx="4.5" ry="2" fill="#f7f7f7" stroke="#888" stroke-width="0.5"/>
<g transform="translate(629,309) rotate(30)"><rect x="-4.5" y="-4.300000000000001" width="9" height="8.600000000000001" rx="1.8" fill="#efefef" stroke="#3a3a3a" stroke-width="0.8"/><line x1="-1.8" y1="-4.300000000000001" x2="-1.8" y2="4.300000000000001" stroke="#8a8a8a" stroke-width="0.9"/><line x1="1.2" y1="-4.300000000000001" x2="1.2" y2="4.300000000000001" stroke="#8a8a8a" stroke-width="0.9"/><line x1="3.6" y1="-4.300000000000001" x2="3.6" y2="4.300000000000001" stroke="#555" stroke-width="0.9"/></g>
<path d="M628,311 L619,308.5 L618.5,312.5 L627.5,316.5 Z" fill="#a11b21" stroke="#4a0a0c" stroke-width="0.7"/>
<g transform="translate(652,334) rotate(90)"><rect x="-4.5" y="-4.300000000000001" width="9" height="8.600000000000001" rx="1.8" fill="#efefef" stroke="#3a3a3a" stroke-width="0.8"/><line x1="-1.8" y1="-4.300000000000001" x2="-1.8" y2="4.300000000000001" stroke="#8a8a8a" stroke-width="0.9"/><line x1="1.2" y1="-4.300000000000001" x2="1.2" y2="4.300000000000001" stroke="#8a8a8a" stroke-width="0.9"/><line x1="3.6" y1="-4.300000000000001" x2="3.6" y2="4.300000000000001" stroke="#555" stroke-width="0.9"/></g>
<path d="M653,336 L662,338.5 L662.5,342 L653.5,341.5 Z" fill="#a11b21" stroke="#4a0a0c" stroke-width="0.7"/>
<g transform="translate(700.7,310.4) rotate(30)"><rect x="-4.5" y="-4.1" width="9" height="8.2" rx="1.8" fill="#efefef" stroke="#3a3a3a" stroke-width="0.8"/><line x1="-1.8" y1="-4.1" x2="-1.8" y2="4.1" stroke="#8a8a8a" stroke-width="0.9"/><line x1="1.2" y1="-4.1" x2="1.2" y2="4.1" stroke="#8a8a8a" stroke-width="0.9"/><line x1="3.6" y1="-4.1" x2="3.6" y2="4.1" stroke="#555" stroke-width="0.9"/></g>
<path d="M699.7,312.4 L690.7,309.9 L690.2,313.9 L699.2,317.9 Z" fill="#a11b21" stroke="#4a0a0c" stroke-width="0.7"/>
<g transform="translate(695.7,329.4) rotate(-30)"><rect x="-4.5" y="-3.9" width="9" height="7.8" rx="1.8" fill="#efefef" stroke="#3a3a3a" stroke-width="0.8"/><line x1="-1.8" y1="-3.9" x2="-1.8" y2="3.9" stroke="#8a8a8a" stroke-width="0.9"/><line x1="1.2" y1="-3.9" x2="1.2" y2="3.9" stroke="#8a8a8a" stroke-width="0.9"/><line x1="3.6" y1="-3.9" x2="3.6" y2="3.9" stroke="#555" stroke-width="0.9"/></g>
<path d="M694.7,331.4 L685.7,328.9 L685.2,332.9 L694.2,336.9 Z" fill="#a11b21" stroke="#4a0a0c" stroke-width="0.7"/>
<path d="M486,432.5 L495,437 M486,458 L495,462.5 M486,434 L495,438.5 M503,402 L512,407 M509,398 L518,403" stroke="#888" stroke-width="0.8"/>
<polygon points="523.7,403.9 527.5,405.5 527.5,451.8 523.7,450.2" fill="#c9dbe9" stroke="#444" stroke-width="0.6" stroke-linejoin="round" />
<polygon points="491.0,419.6 494.9,418.3 494.9,464.6 491.0,465.9" fill="#9fc0dc" stroke="#344" stroke-width="0.6" stroke-linejoin="round" />
<polygon points="491.0,419.6 520.0,405.0 523.7,403.9 494.9,418.3" fill="#a9c8e2" stroke="#344" stroke-width="0.5" stroke-linejoin="round" />
<polygon points="494.9,418.3 523.7,403.9 523.7,450.2 494.9,464.6" fill="#5a93c1" stroke="#2a4058" stroke-width="0.8" stroke-linejoin="round" />
<ellipse cx="505.3" cy="425.5" rx="4.08" ry="4.8" fill="#d8d2c6" stroke="#444" stroke-width="0.7"/>
<ellipse cx="505.90000000000003" cy="425.5" rx="2.4" ry="2.976" fill="#8c8c8c" stroke="#444" stroke-width="0.5"/>
<ellipse cx="505.3" cy="451" rx="4.08" ry="4.8" fill="#d8d2c6" stroke="#444" stroke-width="0.7"/>
<ellipse cx="505.90000000000003" cy="451" rx="2.4" ry="2.976" fill="#8c8c8c" stroke="#444" stroke-width="0.5"/>
<path d="M522.0,415.8 A2.6,3.2 0 1 0 522.3,420.5" fill="none" stroke="#d8e6f2" stroke-width="1.1"/>
<ellipse cx="520.5" cy="418.3" rx="1.1" ry="1.4" fill="#cfe0ee" stroke="none" stroke-width="0"/>
<path d="M522.0,442.1 A2.6,3.2 0 1 0 522.3,446.8" fill="none" stroke="#d8e6f2" stroke-width="1.1"/>
<ellipse cx="520.5" cy="444.6" rx="1.1" ry="1.4" fill="#cfe0ee" stroke="none" stroke-width="0"/>
<path d="M506.5,425.5 L522.9,419.2 Q526.0,418.0 529.2,419.0 L529.2,419.0 Q532.4,420.0 532.4,423.4 L532.4,462.0" fill="none" stroke="#3b4a58" stroke-width="5.800000000000001" stroke-linecap="butt" stroke-linejoin="round"/>
<path d="M506.5,425.5 L522.9,419.2 Q526.0,418.0 529.2,419.0 L529.2,419.0 Q532.4,420.0 532.4,423.4 L532.4,462.0" fill="none" stroke="#92b8db" stroke-width="4.2" stroke-linecap="butt" stroke-linejoin="round"/>
<path d="M506.5,451.0 L511.6,454.7 Q514.9,457.0 515.1,461.0 L515.5,470.0" fill="none" stroke="#3b4a58" stroke-width="5.800000000000001" stroke-linecap="butt" stroke-linejoin="round"/>
<path d="M506.5,451.0 L511.6,454.7 Q514.9,457.0 515.1,461.0 L515.5,470.0" fill="none" stroke="#92b8db" stroke-width="4.2" stroke-linecap="butt" stroke-linejoin="round"/>
<defs><linearGradient id="fg" x1="0" x2="1" y1="0" y2="0"><stop offset="0" stop-color="#3b8cd6"/><stop offset="0.35" stop-color="#3a8ad4"/><stop offset="0.8" stop-color="#2c7cc6"/><stop offset="1" stop-color="#2470b6"/></linearGradient></defs>
<path d="M431.3,474 L431.3,557 A17,6 0 0 0 465.3,557 L465.3,474 Z" fill="url(#fg)" stroke="#1b3550" stroke-width="0.9"/>
<path d="M429.5,487 L429.5,493 A18.8,6.5 0 0 0 467.1,493 L467.1,487 A18.8,6.5 0 0 1 429.5,487 Z" fill="url(#fg)" stroke="#1b3550" stroke-width="0.8"/>
<path d="M429.5,487 A18.8,6.5 0 0 0 467.1,487" fill="none" stroke="#1b3550" stroke-width="0.8"/>
<path d="M429.5,513 L429.5,519 A18.8,6.5 0 0 0 467.1,519 L467.1,513 A18.8,6.5 0 0 1 429.5,513 Z" fill="url(#fg)" stroke="#1b3550" stroke-width="0.8"/>
<path d="M429.5,513 A18.8,6.5 0 0 0 467.1,513" fill="none" stroke="#1b3550" stroke-width="0.8"/>
<path d="M431.3,474 C431.3,461 465.3,461 465.3,474 A17,6 0 0 1 431.3,474 Z" fill="#3a8ed8" stroke="#1b3550" stroke-width="0.9"/>
<path d="M432.8,475.5 A15.5,5 0 0 0 463.8,475.5" fill="none" stroke="#9fd2ff" stroke-width="1.1"/>
<path d="M445.8,468.5 l4,-3 l1.5,1.8 l-4,3 Z" fill="#f0f0f0" stroke="#444" stroke-width="0.5"/>
<circle cx="448.8" cy="464.5" r="1.3" fill="#6a3"/>
<path d="M391.5,521.0 L432.0,543.0" fill="none" stroke="#3b4a58" stroke-width="6.800000000000001" stroke-linecap="butt" stroke-linejoin="round"/>
<path d="M391.5,521.0 L432.0,543.0" fill="none" stroke="#92b8db" stroke-width="5.2" stroke-linecap="butt" stroke-linejoin="round"/>
<path d="M443.0,515.0 L425.2,521.6 Q421.5,523.0 423.5,526.5 L432.0,541.0" fill="none" stroke="#3b4a58" stroke-width="6.6" stroke-linecap="butt" stroke-linejoin="round"/>
<path d="M443.0,515.0 L425.2,521.6 Q421.5,523.0 423.5,526.5 L432.0,541.0" fill="none" stroke="#92b8db" stroke-width="5" stroke-linecap="butt" stroke-linejoin="round"/>
<path d="M377.8,506 L377.8,540 A6.4,2.6 0 0 0 390.6,540 L390.6,506 Z" fill="#ebebeb" stroke="#444" stroke-width="0.8"/>
<ellipse cx="384.2" cy="506" rx="6.4" ry="3.2" fill="#f2f2f2" stroke="#444" stroke-width="0.8"/>
<ellipse cx="384.2" cy="506.4" rx="4.4" ry="2.1" fill="#ffffff" stroke="#666" stroke-width="0.6"/>
<polygon points="382.5,531.0 392.5,525.5 399.0,529.0 389.0,534.5" fill="#efe08c" stroke="#444" stroke-width="0.7" stroke-linejoin="round" />
<polygon points="382.5,531.0 389.0,534.5 389.0,548.0 382.5,544.5" fill="#e3cc6c" stroke="#444" stroke-width="0.7" stroke-linejoin="round" />
<polygon points="389.0,534.5 399.0,529.0 399.0,542.5 389.0,548.0" fill="#d9c263" stroke="#444" stroke-width="0.7" stroke-linejoin="round" />
<g transform="translate(391.5,541.5) rotate(30)"><rect x="0" y="-7.8" width="17.5" height="15.6" fill="#1f4f9a" stroke="#13284a" stroke-width="0.7"/><path d="M2.5,-7.6 L2.5,7.6 M5.5,-7.6 L5.5,7.6 M8.5,-7.6 L8.5,7.6 M11.5,-7.6 L11.5,7.6 M14.5,-7.6 L14.5,7.6" stroke="#3c70c0" stroke-width="1"/><ellipse cx="17.5" cy="0" rx="4.8" ry="7.8" fill="#2a7ad0" stroke="#13284a" stroke-width="0.7"/><ellipse cx="18" cy="0" rx="3" ry="5.2" fill="#3a8ae0" stroke="none"/></g>
<path d="M432.3,518 L432.3,548 A4.15,2 0 0 0 440.6,548 L440.6,518 Z" fill="#ececec" stroke="#555" stroke-width="0.7"/>
<path d="M432.3,526 A4.15,2 0 0 0 440.6,526" fill="none" stroke="#777" stroke-width="0.7"/>
<path d="M432.3,531 A4.15,2 0 0 0 440.6,531" fill="none" stroke="#777" stroke-width="0.7"/>
<path d="M432.3,536 A4.15,2 0 0 0 440.6,536" fill="none" stroke="#777" stroke-width="0.7"/>
<path d="M432.3,541 A4.15,2 0 0 0 440.6,541" fill="none" stroke="#777" stroke-width="0.7"/>
<path d="M430.3,519.5 C430.3,511.5 442.7,511.5 442.7,519.5 A6.2,2.6 0 0 1 430.3,519.5 Z" fill="#ededed" stroke="#444" stroke-width="0.75"/>
<path d="M430.6,520 A6,2.4 0 0 0 442.4,520 L442.4,521.5 A6,2.4 0 0 1 430.6,521.5 Z" fill="#8a7a60" stroke="none"/>
<path d="M440.6,527.5 L458.6,537.6 Q463.0,540.0 463.4,545.0 L464.6,562.0" fill="none" stroke="#3b4a58" stroke-width="6.6" stroke-linecap="butt" stroke-linejoin="round"/>
<path d="M440.6,527.5 L458.6,537.6 Q463.0,540.0 463.4,545.0 L464.6,562.0" fill="none" stroke="#92b8db" stroke-width="5" stroke-linecap="butt" stroke-linejoin="round"/>
<path d="M461.9,562 L461.9,585 M467.3,562 L467.3,585" stroke="#555" stroke-width="0.8"/>
<rect x="462.3" y="562" width="4.6" height="23" fill="#f2f2f2"/>
<g transform="translate(464.6,559) rotate(90)"><rect x="-4.5" y="-3.6" width="9" height="7.2" rx="1.8" fill="#efefef" stroke="#3a3a3a" stroke-width="0.8"/><line x1="-1.8" y1="-3.6" x2="-1.8" y2="3.6" stroke="#8a8a8a" stroke-width="0.9"/><line x1="1.2" y1="-3.6" x2="1.2" y2="3.6" stroke="#8a8a8a" stroke-width="0.9"/><line x1="3.6" y1="-3.6" x2="3.6" y2="3.6" stroke="#555" stroke-width="0.9"/></g>
<path d="M465.6,561 L474.6,563.5 L475.1,567 L466.1,566.5 Z" fill="#a11b21" stroke="#4a0a0c" stroke-width="0.7"/>
<path d="M484.7,490.0 L484.7,505.0" fill="none" stroke="#3b4a58" stroke-width="5.6" stroke-linecap="butt" stroke-linejoin="round"/>
<path d="M484.7,490.0 L484.7,505.0" fill="none" stroke="#92b8db" stroke-width="4" stroke-linecap="butt" stroke-linejoin="round"/>
<path d="M482,505 L482,527 M487.4,505 L487.4,527" stroke="#555" stroke-width="0.8"/>
<rect x="482.4" y="505" width="4.6" height="22" fill="#f2f2f2"/>
<g transform="translate(484.7,503) rotate(90)"><rect x="-4.5" y="-3.6" width="9" height="7.2" rx="1.8" fill="#efefef" stroke="#3a3a3a" stroke-width="0.8"/><line x1="-1.8" y1="-3.6" x2="-1.8" y2="3.6" stroke="#8a8a8a" stroke-width="0.9"/><line x1="1.2" y1="-3.6" x2="1.2" y2="3.6" stroke="#8a8a8a" stroke-width="0.9"/><line x1="3.6" y1="-3.6" x2="3.6" y2="3.6" stroke="#555" stroke-width="0.9"/></g>
<path d="M485.7,505 L494.7,507.5 L495.2,511 L486.2,510.5 Z" fill="#a11b21" stroke="#4a0a0c" stroke-width="0.7"/>
<g transform="translate(498.3,481.5) rotate(-30)"><rect x="-4.5" y="-4.1" width="9" height="8.2" rx="1.8" fill="#efefef" stroke="#3a3a3a" stroke-width="0.8"/><line x1="-1.8" y1="-4.1" x2="-1.8" y2="4.1" stroke="#8a8a8a" stroke-width="0.9"/><line x1="1.2" y1="-4.1" x2="1.2" y2="4.1" stroke="#8a8a8a" stroke-width="0.9"/><line x1="3.6" y1="-4.1" x2="3.6" y2="4.1" stroke="#555" stroke-width="0.9"/></g>
<path d="M499.3,483.5 L508.3,486.0 L508.8,489.5 L499.8,489.0 Z" fill="#a11b21" stroke="#4a0a0c" stroke-width="0.7"/>
<rect x="511.9" y="459" width="7.2" height="6" rx="1" fill="#eeeeee" stroke="#333" stroke-width="0.7"/>
<line x1="511.9" y1="461" x2="519.1" y2="461" stroke="#888" stroke-width="0.7"/><line x1="511.9" y1="463" x2="519.1" y2="463" stroke="#888" stroke-width="0.7"/>
<path d="M513.0,465 L520.0,462 L520.5,470 L513.5,472 Z" fill="#c0151f" stroke="#5a0a0e" stroke-width="0.6"/>
<rect x="528.8" y="452" width="7.2" height="6" rx="1" fill="#eeeeee" stroke="#333" stroke-width="0.7"/>
<line x1="528.8" y1="454" x2="536.0" y2="454" stroke="#888" stroke-width="0.7"/><line x1="528.8" y1="456" x2="536.0" y2="456" stroke="#888" stroke-width="0.7"/>
<path d="M529.9,458 L536.9,455 L537.4,463 L530.4,465 Z" fill="#c0151f" stroke="#5a0a0e" stroke-width="0.6"/>
<g transform="translate(577,452.5) rotate(-29.5)"><rect x="-11" y="-4.6" width="22" height="9.2" fill="#e8e8e8" stroke="#333" stroke-width="0.8"/><rect x="-13" y="-5.4" width="3" height="10.8" rx="1" fill="#d6d6d6" stroke="#333" stroke-width="0.7"/><rect x="10" y="-5.4" width="3" height="10.8" rx="1" fill="#d6d6d6" stroke="#333" stroke-width="0.7"/></g>
<path d="M577,448 L577,443" stroke="#333" stroke-width="1.4"/>
<ellipse cx="576.4" cy="439" rx="5" ry="5.4" fill="#eeeeee" stroke="#333" stroke-width="0.9"/>
<ellipse cx="576.4" cy="439" rx="3.6" ry="4" fill="#f8f8f8" stroke="#777" stroke-width="0.5"/>
<path d="M576.4,439 l1.8,-2.5" stroke="#333" stroke-width="0.7"/>
<path d="M574,455 L574,469 M577,454 L577,468 M580,452.5 L580,467" stroke="#555" stroke-width="2.6"/>
<path d="M574,455 L574,469 M577,454 L577,468 M580,452.5 L580,467" stroke="#eee" stroke-width="1.4"/>
<polygon points="568.0,506.0 588.8,517.0 588.8,534.5 568.0,526.4" fill="#e4e4e4" stroke="#2c2c2c" stroke-width="0.9" stroke-linejoin="round" />
<polygon points="588.8,517.0 609.5,506.0 609.5,523.7 588.8,534.5" fill="#d2d2d2" stroke="#2c2c2c" stroke-width="0.9" stroke-linejoin="round" />
<path d="M568,526.4 L588.8,534.5 L609.5,523.7" fill="none" stroke="#555" stroke-width="2.2"/>
<polygon points="569.8,473.2 588.8,482.2 588.8,510.0 569.8,504.8" fill="#e9e9e9" stroke="#2c2c2c" stroke-width="0.9" stroke-linejoin="round" />
<polygon points="588.8,482.2 605.9,472.3 605.9,503.9 588.8,510.0" fill="#d0d0d0" stroke="#2c2c2c" stroke-width="0.9" stroke-linejoin="round" />
<polygon points="569.8,473.2 587.9,463.3 605.9,472.3 588.8,482.2" fill="#efefef" stroke="#2c2c2c" stroke-width="0.9" stroke-linejoin="round" />
<polygon points="574.8,473.0 587.9,466.3 600.9,472.5 588.5,479.0" fill="#f7f7f7" stroke="#666" stroke-width="0.6" stroke-linejoin="round" />
<polygon points="566.5,505.0 588.8,516.5 612.0,504.5 612.0,507.0 588.8,519.0 566.5,507.5" fill="#e0e0e0" stroke="#444" stroke-width="0.6" stroke-linejoin="round" />
<path d="M574.0,528.0 L574.0,523.0 Q574.0,520.0 571.3,521.2 L567.7,522.8 Q565.0,524.0 565.0,527.0 L565.0,535.0" fill="none" stroke="#3b4a58" stroke-width="5.6" stroke-linecap="butt" stroke-linejoin="round"/>
<path d="M574.0,528.0 L574.0,523.0 Q574.0,520.0 571.3,521.2 L567.7,522.8 Q565.0,524.0 565.0,527.0 L565.0,535.0" fill="none" stroke="#92b8db" stroke-width="4" stroke-linecap="butt" stroke-linejoin="round"/>
<polygon points="609.8,460.0 622.0,466.5 622.0,505.0 611.5,500.0" fill="#e4e4e4" stroke="#2c2c2c" stroke-width="0.9" stroke-linejoin="round" />
<polygon points="622.0,466.5 636.0,459.5 634.5,499.0 622.0,505.0" fill="#d3d3d3" stroke="#2c2c2c" stroke-width="0.9" stroke-linejoin="round" />
<path d="M609.5,457 Q609.5,454 613,452.5 L619,449.5 Q622,448.3 625,449.5 L633,453.5 Q636.5,455.5 636.2,458 L636.2,461 Q636,463 633,464.5 L625,468.5 Q622,469.8 619,468.5 L612.5,465 Q609.5,463.5 609.5,461 Z" fill="#e3e3e3" stroke="#444" stroke-width="0.8"/>
<path d="M609.5,457 Q609.5,454 613,452.5 L619,449.5 Q622,448.3 625,449.5 L633,453.5 Q636.5,455.5 636.2,458 Q636,459.5 633,461 L625,465 Q622,466.3 619,465 L612.5,461.5 Q609.5,460 609.5,457 Z" fill="#f1f1f1" stroke="#444" stroke-width="0.8"/>
<path d="M614,502 L614,511" stroke="#333" stroke-width="2.6"/>
<path d="M614,502 L614,510" stroke="#ddd" stroke-width="1.4"/>
<path d="M622,506 L622,515" stroke="#333" stroke-width="2.6"/>
<path d="M622,506 L622,514" stroke="#ddd" stroke-width="1.4"/>
<path d="M630,501 L630,510" stroke="#333" stroke-width="2.6"/>
<path d="M630,501 L630,509" stroke="#ddd" stroke-width="1.4"/>
<path d="M606,480 L612,477" stroke="#555" stroke-width="2.5"/><path d="M606,480 L612,477" stroke="#eee" stroke-width="1.3"/>
<polygon points="649.5,449.6 663.4,455.9 663.4,489.4 651.0,477.1" fill="#ededed" stroke="#2c2c2c" stroke-width="0.9" stroke-linejoin="round" />
<polygon points="663.4,455.9 684.5,444.2 683.0,471.7 663.4,489.4" fill="#dcdcdc" stroke="#2c2c2c" stroke-width="0.9" stroke-linejoin="round" />
<path d="M648.0,445.6 Q648.0,443.1 650.3,444.0 L661.1,448.5 Q663.4,449.4 665.6,448.3 L683.8,438.8 Q686.0,437.7 686.0,440.2 L686.0,441.7 Q686.0,444.2 683.8,445.3 L665.6,454.8 Q663.4,455.9 661.1,455.0 L650.3,450.5 Q648.0,449.6 648.0,447.1 Z" fill="#e4e4e4" stroke="#2c2c2c" stroke-width="0.9" stroke-linejoin="round"/>
<path d="M651.7,444.6 Q648.0,443.1 651.4,441.0 L663.6,433.5 Q667.0,431.4 670.8,432.7 L682.2,436.4 Q686.0,437.7 682.4,439.5 L667.0,447.6 Q663.4,449.4 659.7,447.9 Z" fill="#f3f3f3" stroke="#2c2c2c" stroke-width="0.9" stroke-linejoin="round"/>
<polygon points="685.6,425.3 699.4,431.6 699.4,468.1 687.1,455.8" fill="#ededed" stroke="#2c2c2c" stroke-width="0.9" stroke-linejoin="round" />
<polygon points="699.4,431.6 721.4,421.7 719.9,452.2 699.4,468.1" fill="#dcdcdc" stroke="#2c2c2c" stroke-width="0.9" stroke-linejoin="round" />
<path d="M684.1,421.3 Q684.1,418.8 686.4,419.8 L697.1,424.1 Q699.4,425.1 701.7,424.1 L720.6,416.2 Q722.9,415.2 722.9,417.7 L722.9,419.2 Q722.9,421.7 720.6,422.7 L701.7,430.6 Q699.4,431.6 697.1,430.6 L686.4,426.3 Q684.1,425.3 684.1,422.8 Z" fill="#e4e4e4" stroke="#2c2c2c" stroke-width="0.9" stroke-linejoin="round"/>
<path d="M687.8,420.3 Q684.1,418.8 687.6,416.9 L700.4,409.9 Q703.9,408.0 707.6,409.4 L719.2,413.8 Q722.9,415.2 719.2,416.8 L703.1,423.5 Q699.4,425.1 695.7,423.6 Z" fill="#f3f3f3" stroke="#2c2c2c" stroke-width="0.9" stroke-linejoin="round"/>
<path d="M645.3,412.5 L673,431 M682.3,391.5 L709,410" stroke="#444" stroke-width="2.4"/>
<path d="M645.3,412.5 L673,431 M682.3,391.5 L709,410" stroke="#e0e0e0" stroke-width="1.2"/>
<g transform="translate(645.3,412.5) rotate(-29.5)"><rect x="-3" y="-5" width="6" height="10" fill="#dcdcdc" stroke="#444" stroke-width="0.6"/></g>
<g transform="translate(682.3,391.5) rotate(-29.5)"><rect x="-3" y="-5" width="6" height="10" fill="#dcdcdc" stroke="#444" stroke-width="0.6"/></g>
<polygon points="670.0,431.0 678.0,427.0 682.0,429.0 682.0,437.0 674.0,441.0 670.0,439.0" fill="#7a7a7a" stroke="#333" stroke-width="0.7" stroke-linejoin="round" />
<polygon points="670.0,431.0 678.0,427.0 682.0,429.0 674.0,433.0" fill="#9a9a9a" stroke="#333" stroke-width="0.5" stroke-linejoin="round" />
<polygon points="706.0,410.0 714.0,406.0 718.0,408.0 718.0,416.0 710.0,420.0 706.0,418.0" fill="#7a7a7a" stroke="#333" stroke-width="0.7" stroke-linejoin="round" />
<polygon points="706.0,410.0 714.0,406.0 718.0,408.0 710.0,412.0" fill="#9a9a9a" stroke="#333" stroke-width="0.5" stroke-linejoin="round" />
<path d="M696,412 L696,420 A3.5,1.5 0 0 0 703,420 L703,412 Z" fill="#e8e8e8" stroke="#555" stroke-width="0.6"/>
<ellipse cx="699.5" cy="412" rx="3.5" ry="1.5" fill="#f5f5f5" stroke="#555" stroke-width="0.6"/>
<circle cx="151" cy="517.7" r="12.6" fill="#0a76c5"/>
<path transform="translate(151,517.7)" d="M-3.2,-3.6 L0.4,-6.2 L0.4,6.2" fill="none" stroke="#fff" stroke-width="1.35" stroke-linejoin="miter" stroke-linecap="butt"/>
<circle cx="283.4" cy="540.8" r="12.6" fill="#0a76c5"/>
<path transform="translate(283.4,540.8)" d="M-3.4,-3.4 C-3.2,-5.3 -1.8,-6.2 0,-6.2 C2,-6.2 3.4,-4.9 3.4,-3 C3.4,-1.6 2.8,-0.6 1.6,0.8 L-3.5,6.2 L3.7,6.2" fill="none" stroke="#fff" stroke-width="1.35" stroke-linejoin="miter" stroke-linecap="butt"/>
<circle cx="682.2" cy="256.7" r="12.6" fill="#0a76c5"/>
<path transform="translate(682.2,256.7)" d="M-3.4,-3.4 C-3.2,-5.3 -1.8,-6.2 0,-6.2 C2,-6.2 3.4,-4.9 3.4,-3 C3.4,-1.6 2.8,-0.6 1.6,0.8 L-3.5,6.2 L3.7,6.2" fill="none" stroke="#fff" stroke-width="1.35" stroke-linejoin="miter" stroke-linecap="butt"/>
<circle cx="325.2" cy="430" r="12.6" fill="#0a76c5"/>
<path transform="translate(325.2,430)" d="M-3.3,-6 L3.2,-6 L-0.4,-1.1 C1.8,-1.3 3.6,-0.1 3.6,2.4 C3.6,4.7 2,6.2 0,6.2 C-1.6,6.2 -2.9,5.4 -3.6,4" fill="none" stroke="#fff" stroke-width="1.35" stroke-linejoin="miter" stroke-linecap="butt"/>
<circle cx="591.2" cy="372.7" r="12.6" fill="#0a76c5"/>
<path transform="translate(591.2,372.7)" d="M1.8,-6.5 L-3.8,3.8 L3.6,3.8 M1.8,-0.6 L1.8,6.6" fill="none" stroke="#fff" stroke-width="1.35" stroke-linejoin="miter" stroke-linecap="butt"/>
</svg></body></html>
